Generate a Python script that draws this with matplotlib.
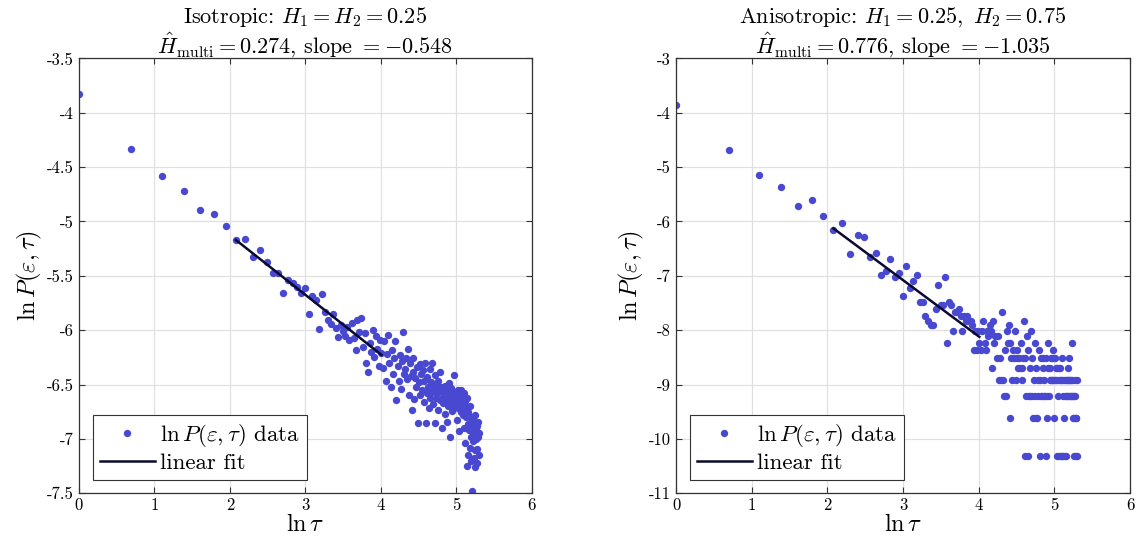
import matplotlib.pyplot as plt
import numpy as np

plt.rcParams['font.family'] = ['cmr10', 'DejaVu Serif']
plt.rcParams['mathtext.fontset'] = 'cm'
plt.rcParams['axes.unicode_minus'] = False
plt.rcParams['axes.formatter.use_mathtext'] = False

# lag values tau = 1..200
tau = np.arange(1, 201)

# isotropic field: ln P(eps, tau)
iso_lnP = [
    -3.83, -4.33, -4.58, -4.72, -4.89, -4.93, -5.04, -5.17, -5.16, -5.33,
    -5.26, -5.37, -5.47, -5.47, -5.66, -5.54, -5.57, -5.60, -5.66, -5.61,
    -5.85, -5.69, -5.72, -5.99, -5.67, -5.83, -5.91, -5.94, -5.85, -5.98,
    -6.06, -5.95, -6.01, -6.05, -5.97, -6.09, -5.93, -6.07, -6.18, -5.91,
    -6.02, -5.89, -6.15, -6.03, -6.30, -6.38, -6.12, -6.20, -6.00, -6.25,
    -6.05, -6.17, -6.33, -6.09, -6.21,
    -6.35, -6.10, -6.47, -6.22, -6.04, -6.30, -6.52, -6.18, -6.40, -6.26,
    -6.10, -6.64, -6.33, -6.47, -6.23, -6.54, -6.28, -6.02, -6.40, -6.36,
    -6.26, -6.45, -6.17, -6.60, -6.30, -6.42, -6.73, -6.26, -6.38, -6.63,
    -6.44, -6.52, -6.34, -6.85, -6.48, -6.31, -6.60, -6.40, -6.55, -6.37,
    -6.66, -6.47, -6.30, -6.85, -6.58, -6.43, -6.52, -6.72, -6.36, -6.62,
    -6.48, -6.57, -6.30, -6.68, -6.53, -6.41, -6.85, -6.62, -6.50, -6.58,
    -6.47, -6.73, -6.56, -6.64, -6.38, -6.52, -6.62, -6.90, -6.55, -6.67,
    -6.60, -6.51, -6.77, -6.58, -6.66, -6.84, -6.55, -6.70, -6.49, -6.62,
    -6.98, -6.60, -6.68, -6.53, -6.74, -6.58, -6.66, -6.41, -6.71, -6.62,
    -6.57, -6.69, -6.60, -6.83, -6.65, -6.55, -6.72, -6.63, -6.93, -6.68,
    -6.60, -6.75, -6.55, -6.67, -6.62, -6.78, -6.70, -6.58, -6.90, -6.73,
    -6.65, -7.04, -6.80, -6.70, -7.25, -6.62, -6.86, -6.75, -7.15, -6.92,
    -6.79, -6.70, -7.08, -6.84, -6.98, -7.20, -6.88, -7.48, -7.02, -6.80,
    -6.95, -7.18, -6.84, -7.10, -6.78, -7.26, -6.92, -7.00, -7.22, -6.88,
    -7.09, -6.84, -6.98, -7.15, -6.95,
]

# anisotropic field: hit counts out of N
N_aniso = 30000
aniso_counts = [
    631, 279, 175, 139, 99, 111, 82, 63, 72, 41,
    58, 56, 39, 42, 28, 30, 37, 27, 29, 19,
    33, 22, 25, 28, 17, 17, 13, 12, 11, 11,
    15, 23, 16, 16, 27, 8, 17, 16, 10, 14,
    14, 15, 13, 10, 13, 12, 13, 12, 12, 11,
    7, 10, 7, 10, 8,
    7, 10, 12, 8, 7, 10, 9, 11, 10, 5,
    12, 8, 9, 6, 9, 4, 6, 4, 14, 4,
    3, 7, 3, 10, 8, 11, 2, 8, 6, 4,
    7, 6, 10, 4, 7, 6, 5, 6, 5, 8,
    5, 4, 6, 12, 1, 6, 3, 9, 1, 7,
    3, 5, 3, 10, 6, 3, 2, 4, 3, 8,
    2, 5, 2, 3, 4, 7, 1, 4, 3, 6,
    3, 5, 6, 3, 4, 3, 6, 1, 2, 3,
    5, 8, 3, 4, 5, 4, 6, 4, 6, 7,
    4, 6, 2, 4, 6, 4, 5, 1, 5, 4,
    3, 1, 5, 4, 5, 1, 4, 6, 1, 4,
    3, 1, 4, 2, 1, 3, 4, 1, 3, 4,
    3, 4, 5, 3, 6, 4, 3, 4, 3, 4,
    8, 3, 4, 3, 2, 1, 3, 2, 4, 3,
    2, 1, 2, 1, 4,
]

# linear fits (slope, intercept) over tau = 8..55
fit_tau = [8, 55]
iso_fit = (-0.548, -4.031)
aniso_fit = (-1.035, -3.975)

titles = [
    'Isotropic: $H_1 = H_2 = 0.25$\n$\\hat{H}_{\\mathrm{multi}} = 0.274$, slope $= -0.548$',
    'Anisotropic: $H_1 = 0.25,\\ H_2 = 0.75$\n$\\hat{H}_{\\mathrm{multi}} = 0.776$, slope $= -1.035$',
]

x = np.log(tau)
y_sets = [np.array(iso_lnP), np.log(np.array(aniso_counts) / N_aniso)]
fits = [iso_fit, aniso_fit]
ylims = [(-7.5, -3.5), (-11, -3)]
yticks = [np.arange(-7.5, -3.4, 0.5), np.arange(-11, -2.9, 1)]

fig = plt.figure(figsize=(11.41, 5.54), dpi=100)
ax_pos = [[0.0692, 0.1096, 0.397, 0.785], [0.5925, 0.1096, 0.398, 0.785]]

for i in range(2):
    ax = fig.add_axes(ax_pos[i])
    ax.plot(x, y_sets[i], 'o', color='#4848d0', ms=5.3, mec='none',
            label='$\\ln P(\\varepsilon,\\tau)$ data')
    xf = np.log(np.array(fit_tau))
    yf = fits[i][0] * xf + fits[i][1]
    ax.plot(xf, yf, '-', color='#0a0a30', lw=1.8, label='linear fit')
    ax.set_xlim(0, 6)
    ax.set_ylim(*ylims[i])
    ax.set_xticks(range(0, 7))
    ax.set_yticks(yticks[i])
    ax.set_yticklabels([('%g' % v) for v in yticks[i]])
    ax.grid(True, color='0.88', lw=0.9)
    ax.set_axisbelow(True)
    ax.tick_params(direction='in', top=True, right=True, labelsize=12,
                   length=4, color='0.2')
    for s in ax.spines.values():
        s.set_color('0.2')
        s.set_linewidth(0.9)
    ax.set_title(titles[i], fontsize=16, linespacing=1.05, pad=4)
    ax.set_xlabel('$\\ln\\tau$', fontsize=17.5, labelpad=0)
    ax.set_ylabel('$\\ln P(\\varepsilon,\\tau)$', fontsize=17.5, labelpad=2)
    leg = ax.legend(loc='lower left', fontsize=16.5, handlelength=2.4,
                    fancybox=False, framealpha=1, edgecolor='0.2',
                    borderaxespad=0.6, handletextpad=0.25, labelspacing=0.15,
                    borderpad=0.3)
    leg.get_frame().set_linewidth(0.8)

fig.savefig('out.png', dpi=100)
